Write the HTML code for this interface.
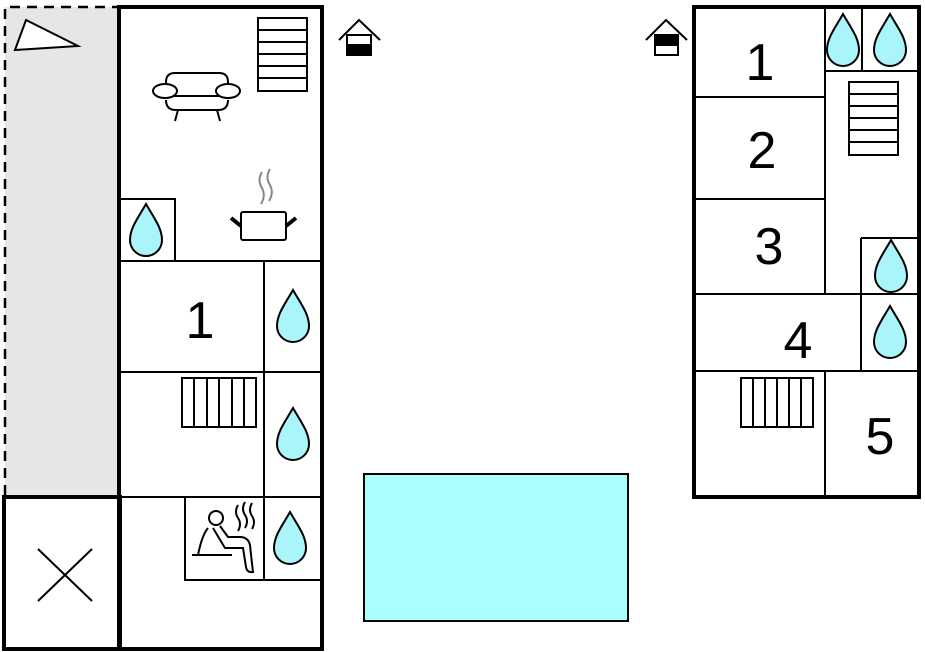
<!DOCTYPE html>
<html><head><style>html,body{margin:0;padding:0;background:#fff}svg{display:block}</style></head><body>
<svg width="925" height="652" viewBox="0 0 925 652" xmlns="http://www.w3.org/2000/svg">
<defs>
<path id="drop" d="M0,-26 C-8,-12 -16,-2 -16,10 A16,16 0 0 0 16,10 C16,-2 8,-12 0,-26 Z" fill="#aaf5fa" stroke="#000" stroke-width="2"/>
</defs>
<!-- grey terrace -->
<rect x="5" y="7" width="113" height="489" fill="#e6e6e6"/>
<path d="M5,495 V7 H118" fill="none" stroke="#000" stroke-width="2.5" stroke-dasharray="10,7"/>
<polygon points="15,50 26,20 78,46" fill="#fff" stroke="#000" stroke-width="2"/>
<!-- left building -->
<g fill="none" stroke="#000">
<rect x="119" y="7" width="203" height="642" stroke-width="4"/>
<rect x="4" y="497" width="116" height="152" stroke-width="4"/>
<path d="M119,261 H321 M119,199 H175 V261 M264,261 V580 M119,372 H321 M119,497 H321 M185,497 V580 H321" stroke-width="2"/>
<path d="M38,549 L92,601 M92,549 L38,601" stroke-width="2"/>
<!-- stairs -->
<rect x="258" y="18" width="49" height="73" stroke-width="2"/>
<path d="M258,30 H307 M258,42 H307 M258,54 H307 M258,66 H307 M258,78 H307" stroke-width="2"/>
<!-- sofa -->
<path d="M166,88 V82 Q166,73 175,73 H219 Q228,73 228,82 V88 M166,96 H228 M166,100 Q166,110 176,110 H218 Q228,110 228,100" stroke-width="2"/>
<ellipse cx="165" cy="91" rx="12" ry="7" fill="#fff" stroke-width="2"/>
<ellipse cx="228" cy="91" rx="12" ry="7" fill="#fff" stroke-width="2"/>
<path d="M178,110 L175,121 M217,110 L220,121" stroke-width="2"/>
<!-- pot -->
<rect x="241" y="212" width="45" height="28" rx="2" stroke-width="2"/>
<path d="M231,218 L241,226 M296,218 L286,226" stroke-width="4"/>
<path d="M262,172 Q257,180 262,188 Q266,196 261,204 M270,169 Q265,177 270,185 Q274,193 269,201" stroke="#888" stroke-width="2"/>
<!-- radiator left -->
<rect x="182" y="378" width="74" height="49" stroke-width="2"/>
<path d="M194,378 V427 M207,378 V427 M219,378 V427 M232,378 V427 M244,378 V427" stroke-width="2"/>
<!-- sauna -->
<circle cx="216" cy="518" r="7" stroke-width="2"/>
<path d="M208,528 Q202,535 198,555 M213,528 L225,548 H243 L246,567 Q247,573 253,572 Q251,555 250,545 Q248,537 240,537 H228 L220,526" stroke-width="2"/>
<path d="M192,555 H232" stroke-width="2"/>
<path d="M238,505 Q234,512 238,518 Q242,524 238,531 M245,502 Q241,509 245,515 Q249,521 245,528 M252,503 Q248,510 252,516 Q256,522 252,529" stroke-width="2"/>
</g>
<use href="#drop" x="146" y="230"/>
<use href="#drop" x="293" y="316"/>
<use href="#drop" x="293" y="434"/>
<use href="#drop" x="290" y="538"/>
<text x="200" y="338" font-family="Liberation Sans, sans-serif" font-size="52" text-anchor="middle">1</text>
<!-- house icons -->
<g fill="none" stroke="#000" stroke-width="2">
<path d="M339,40 L359,20 L380,40"/>
<rect x="347" y="35" width="24" height="20" fill="#fff"/>
<rect x="347" y="45" width="24" height="10" fill="#000"/>
<path d="M646,40 L666,20 L687,40"/>
<rect x="655" y="35" width="23" height="20" fill="#fff"/>
<rect x="655" y="35" width="23" height="10" fill="#000"/>
</g>
<!-- pool -->
<rect x="364" y="474" width="264" height="147" fill="#aaffff" stroke="#000" stroke-width="2"/>
<!-- right building -->
<g fill="none" stroke="#000">
<rect x="694" y="7" width="225" height="490" stroke-width="4"/>
<path d="M825,7 V294 M694,97 H825 M694,199 H825 M694,294 H919 M825,71 H919 M862,7 V71 M861,238 H919 M861,238 V371 M694,371 H919 M825,371 V497" stroke-width="2"/>
<rect x="849" y="82" width="49" height="73" stroke-width="2"/>
<path d="M849,94 H898 M849,106 H898 M849,118 H898 M849,130 H898 M849,142 H898" stroke-width="2"/>
<rect x="741" y="378" width="72" height="49" stroke-width="2"/>
<path d="M753,378 V427 M765,378 V427 M777,378 V427 M789,378 V427 M801,378 V427" stroke-width="2"/>
</g>
<use href="#drop" x="843" y="40"/>
<use href="#drop" x="890" y="40"/>
<use href="#drop" x="891" y="266"/>
<use href="#drop" x="890" y="332"/>
<g font-family="Liberation Sans, sans-serif" font-size="52" text-anchor="middle">
<text x="760" y="80">1</text>
<text x="762" y="168">2</text>
<text x="769" y="264">3</text>
<text x="798" y="358">4</text>
<text x="880" y="454">5</text>
</g>
</svg>
</body></html>
